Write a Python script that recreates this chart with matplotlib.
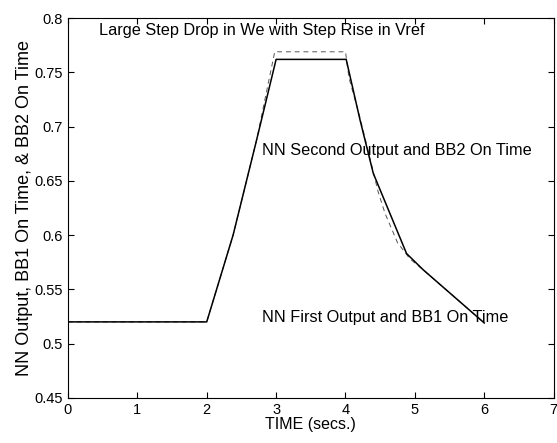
import matplotlib
matplotlib.use('Agg')
import matplotlib.pyplot as plt

plt.rcParams['font.family'] = ['Liberation Sans', 'DejaVu Sans']

# NN output (solid)
t_nn = [0, 2.0, 2.38, 2.72, 3.0, 4.01, 4.21, 4.40, 4.64, 4.88, 5.12, 6.0]
v_nn = [0.52, 0.52, 0.600, 0.688, 0.762, 0.762, 0.706, 0.657, 0.620, 0.583, 0.568, 0.519]

# BB on time (dashed, mostly hidden under the NN line)
t_bb = [0, 2.0, 2.38, 2.72, 2.98, 4.0, 4.05, 4.21, 4.47, 4.57, 4.75, 4.93, 5.12, 6.0]
v_bb = [0.52, 0.52, 0.600, 0.688, 0.769, 0.769, 0.745, 0.708, 0.640, 0.620, 0.593, 0.578, 0.568, 0.519]

xticks = [0, 1, 2, 3, 4, 5, 6, 7]
yticks = [0.45, 0.5, 0.55, 0.6, 0.65, 0.7, 0.75, 0.8]
ylabels = ['0.45', '0.5', '0.55', '0.6', '0.65', '0.7', '0.75', '0.8']

fig = plt.figure(figsize=(5.57, 4.43), dpi=100)
ax = fig.add_axes([0.122, 0.102, 0.872, 0.857])
ax.plot(t_bb, v_bb, color='#555555', lw=0.7, ls=(0, (5, 4)))
ax.plot(t_nn, v_nn, color='black', lw=1.1)

ax.set_xlim(0, 7)
ax.set_ylim(0.45, 0.8)
ax.set_xticks(xticks)
ax.set_yticks(yticks)
ax.set_yticklabels(ylabels)
ax.tick_params(direction='in', top=True, right=True, labelsize=10.5, length=4)

ax.set_xlabel('TIME (secs.)', fontsize=11.5, labelpad=0)
ax.set_ylabel('NN Output, BB1 On Time, & BB2 On Time', fontsize=13, labelpad=1)

ax.text(0.45, 0.789, 'Large Step Drop in We with Step Rise in Vref', fontsize=11.7, va='center')
ax.text(2.8, 0.678, 'NN Second Output and BB2 On Time', fontsize=11.7, va='center')
ax.text(2.8, 0.524, 'NN First Output and BB1 On Time', fontsize=11.7, va='center')

fig.savefig('out.png', dpi=100)
